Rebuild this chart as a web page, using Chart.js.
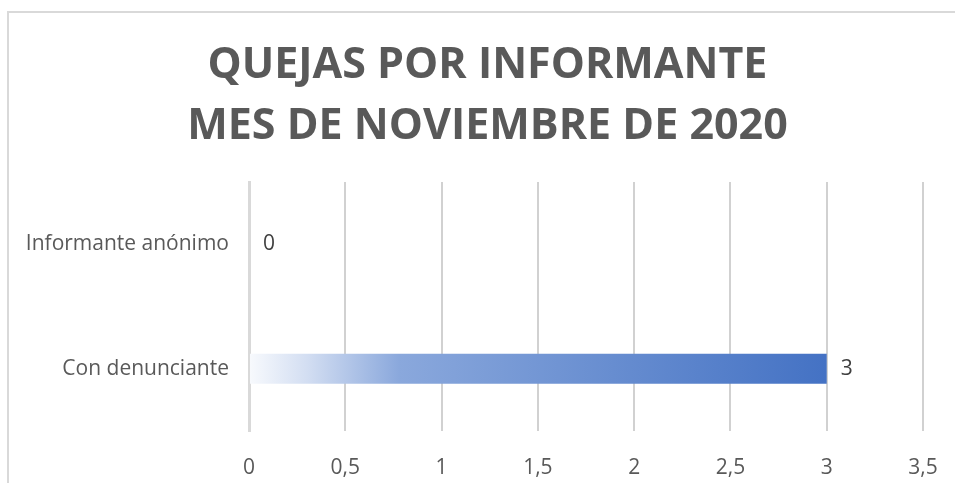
<!DOCTYPE html>
<html>
<head>
<meta charset="utf-8">
<script src="https://cdn.jsdelivr.net/npm/chart.js@4"></script>
<style>
  html, body { margin: 0; padding: 0; background: #fff; overflow: hidden; }
  #wrap { position: relative; width: 955px; height: 483px; }
  #frame { position: absolute; left: 7px; top: 11px; width: 960px; height: 480px;
           border-top: 2px solid #d9d9d9; border-left: 2px solid #d9d9d9; }
  canvas { position: absolute; left: 0; top: 0; }
</style>
</head>
<body>
<div id="wrap">
  <div id="frame"></div>
  <canvas id="bar-chart" width="955" height="483"></canvas>
</div>
<script>
var titleLines = ['QUEJAS POR INFORMANTE', 'MES DE NOVIEMBRE DE 2020'];
var categories = ['Informante anónimo', 'Con denunciante'];
var quejas = [0, 3];
var xTicks = [0, 0.5, 1, 1.5, 2, 2.5, 3, 3.5];

// gradiente blanco -> azul como en el original
function barFill(ctx) {
  var chart = ctx.chart;
  var area = chart.chartArea;
  if (!area) return '#4472C4';
  var x = chart.scales.x;
  var g = chart.ctx.createLinearGradient(x.getPixelForValue(0), 0, x.getPixelForValue(3), 0);
  g.addColorStop(0, '#F8FAFD');
  g.addColorStop(0.1, '#D3DEF2');
  g.addColorStop(0.26, '#8AA8DC');
  g.addColorStop(1, '#4472C4');
  return g;
}

var valueLabels = {
  id: 'valueLabels',
  afterDatasetsDraw: function(chart) {
    var c = chart.ctx;
    var meta = chart.getDatasetMeta(0);
    c.save();
    c.font = '21px "Open Sans"';
    c.fillStyle = '#404040';
    c.textAlign = 'center';
    c.textBaseline = 'middle';
    meta.data.forEach(function(bar, i) {
      c.fillText(String(quejas[i]).replace('.', ','), bar.x + 20, bar.y);
    });
    c.restore();
  }
};

// the title in the original sits a bit right of the plot centre
var titleShift = {
  id: 'titleShift',
  afterLayout: function(chart) {
    chart.titleBlock.left += 26;
    chart.titleBlock.right += 26;
  }
};

var myChart = new Chart(document.getElementById('bar-chart'), {
  type: 'bar',
  data: {
    labels: categories,
    datasets: [{
      data: quejas,
      backgroundColor: barFill,
      borderWidth: 0,
      categoryPercentage: 1,
      barPercentage: 0.24
    }]
  },
  plugins: [valueLabels, titleShift],
  options: {
    indexAxis: 'y',
    responsive: false,
    animation: false,
    layout: { padding: { left: 0, right: 32, top: 0, bottom: 0 } },
    plugins: {
      legend: { display: false },
      tooltip: { enabled: false },
      title: {
        display: true,
        text: titleLines,
        color: '#595959',
        font: { family: 'Open Sans', size: 43, weight: 'bold', lineHeight: 1.42 },
        padding: { top: 35, bottom: 25 }
      }
    },
    scales: {
      x: {
        min: 0,
        max: 3.5,
        z: 1,
        afterBuildTicks: function(s) {
          s.ticks = xTicks.map(function(v) { return { value: v }; });
        },
        afterFit: function(s) {
          s.height = 52;
          s.paddingLeft = 0;
          s.paddingRight = 0;
        },
        ticks: {
          color: '#595959',
          font: { family: 'Open Sans', size: 21 },
          padding: 24,
          callback: function(v) { return String(v).replace('.', ','); }
        },
        grid: {
          drawTicks: false,
          lineWidth: 2,
          color: function(ctx) { return ctx.index === 0 ? 'rgba(0,0,0,0)' : 'rgba(0,0,0,0.18)'; }
        },
        border: { display: false }
      },
      y: {
        afterFit: function(s) { s.width = 249; },
        ticks: {
          color: '#595959',
          font: { family: 'Open Sans', size: 21 },
          padding: 20
        },
        grid: { display: false, drawTicks: false },
        border: { display: true, color: '#d9d9d9', width: 3 }
      }
    }
  }
});
</script>
</body>
</html>
